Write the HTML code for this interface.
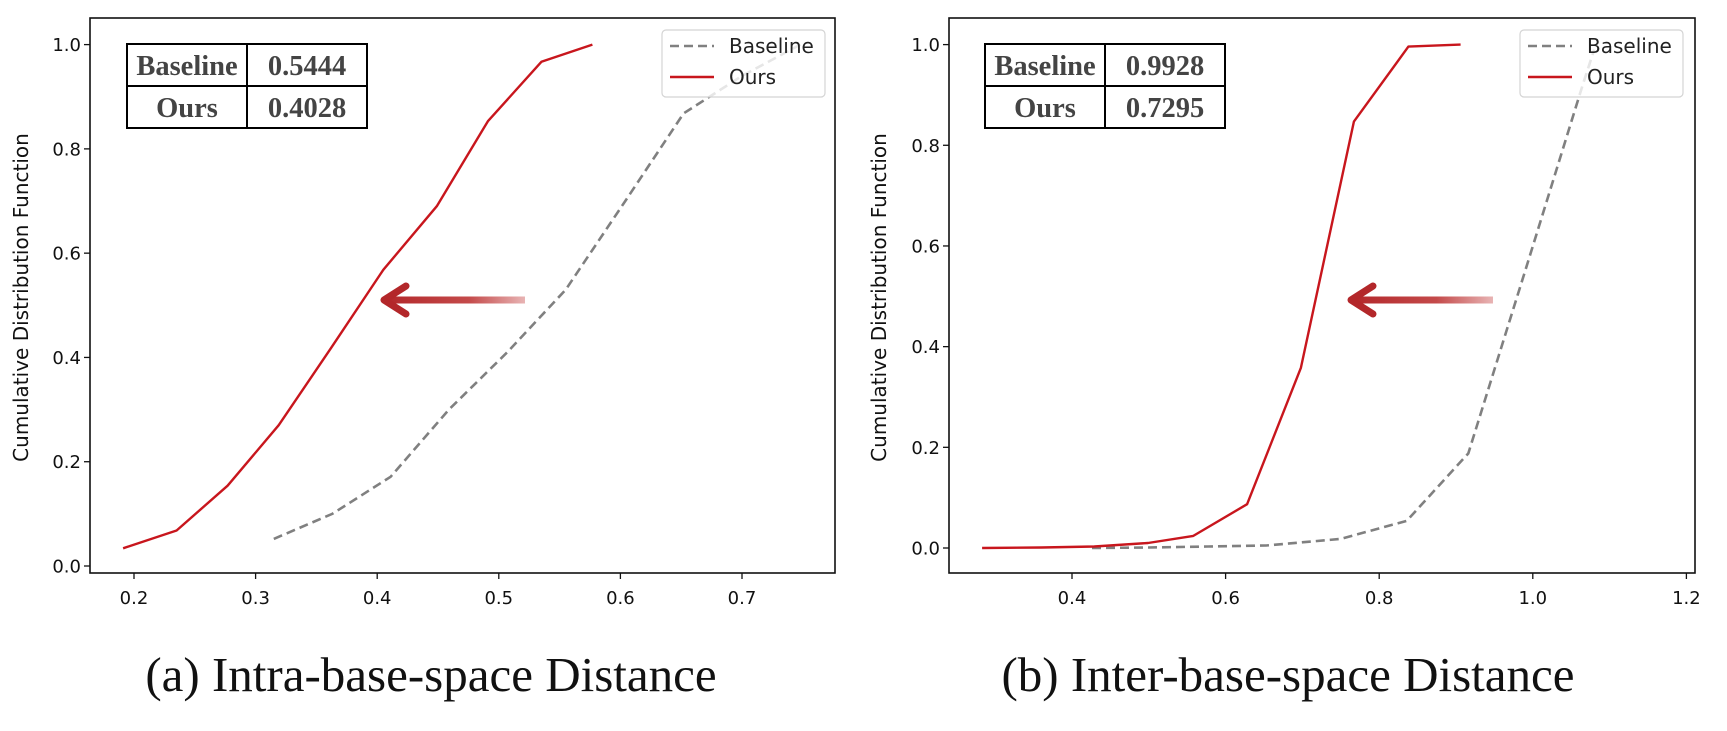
<!DOCTYPE html>
<html><head><meta charset="utf-8"><style>
html,body{margin:0;padding:0;background:#fff;}
svg{display:block;}
.tick{font-family:"DejaVu Sans","Liberation Sans",sans-serif;font-size:18px;fill:#111;}
.ytitle{font-family:"DejaVu Sans","Liberation Sans",sans-serif;font-size:20px;fill:#111;}
.leg{font-family:"DejaVu Sans","Liberation Sans",sans-serif;font-size:20px;fill:#222;}
.tbl{font-family:"Liberation Serif",serif;font-weight:bold;font-size:28.5px;fill:#444;}
.cap{font-family:"Liberation Serif",serif;font-size:49px;fill:#111;}
</style></head><body>
<svg id="fig" width="1727" height="731" viewBox="0 0 1727 731" xmlns="http://www.w3.org/2000/svg">
<defs>
<linearGradient id="arrowGrad" x1="0" x2="1" y1="0" y2="0">
<stop offset="0" stop-color="#b3272a"/><stop offset="0.6" stop-color="#c44a4a"/><stop offset="1" stop-color="#e8b4b4"/>
</linearGradient>
</defs>
</svg>
<script>
// ---- data: left chart ----
const leftOursX = [0.191,0.235,0.277,0.319,0.362,0.405,0.449,0.491,0.535,0.577];
const leftOursY = [0.034,0.068,0.154,0.270,0.418,0.568,0.690,0.853,0.967,1.0];
const leftBaseX = [0.315,0.363,0.411,0.459,0.507,0.555,0.604,0.652,0.700,0.748];
const leftBaseY = [0.052,0.100,0.171,0.300,0.410,0.530,0.700,0.868,0.940,1.0];
const leftXTicks = [0.2,0.3,0.4,0.5,0.6,0.7];
const leftXTickLabels = ["0.2","0.3","0.4","0.5","0.6","0.7"];
// ---- data: right chart ----
const rightOursX = [0.283,0.36,0.429,0.499,0.558,0.628,0.698,0.767,0.838,0.906];
const rightOursY = [0.0,0.001,0.003,0.010,0.024,0.087,0.358,0.847,0.996,1.0];
const rightBaseX = [0.426,0.50,0.577,0.653,0.750,0.836,0.916,0.99,1.065,1.08];
const rightBaseY = [0.0,0.001,0.003,0.005,0.018,0.054,0.188,0.55,0.92,0.99];
const rightXTicks = [0.4,0.6,0.8,1.0,1.2];
const rightXTickLabels = ["0.4","0.6","0.8","1.0","1.2"];
const yTicks = [0.0,0.2,0.4,0.6,0.8,1.0];
const yTickLabels = ["0.0","0.2","0.4","0.6","0.8","1.0"];
const leftTable = [["Baseline","0.5444"],["Ours","0.4028"]];
const rightTable = [["Baseline","0.9928"],["Ours","0.7295"]];

const NS="http://www.w3.org/2000/svg";
const svg=document.getElementById('fig');
function mk(tag,attrs,parent,text){const e=document.createElementNS(NS,tag);for(const k in attrs)e.setAttribute(k,attrs[k]);if(text!==undefined)e.textContent=text;(parent||svg).appendChild(e);return e;}

function drawChart(cfg){
  const g=mk('g',{});
  
  
  const sx=v=>cfg.x0px+(v-cfg.x0v)*cfg.xs;
  const sy=v=>cfg.y0px-v*cfg.ys;
  const frame=mk('rect',{x:cfg.L,y:cfg.T,width:cfg.R-cfg.L,height:cfg.B-cfg.T,fill:'none',stroke:'#111','stroke-width':1.6},g);
  
  
  yTicks.forEach((v,i)=>{
    const y=sy(v);
    const t=mk('line',{x1:cfg.L-6,x2:cfg.L,y1:y,y2:y,stroke:'#111','stroke-width':1.3},g);
    
    
    const l=mk('text',{x:cfg.L-9,y:y+6.5,'text-anchor':'end',class:'tick'},g,yTickLabels[i]);
    
    
  });
  cfg.xt.forEach((v,i)=>{
    const x=sx(v);
    const t=mk('line',{x1:x,x2:x,y1:cfg.B,y2:cfg.B+6,stroke:'#111','stroke-width':1.3},g);
    
    
    const l=mk('text',{x:x,y:cfg.B+31,'text-anchor':'middle',class:'tick'},g,cfg.xl[i]);
    
    
  });
  const yt=mk('text',{x:cfg.ytx,y:(cfg.T+cfg.B)/2+2,'text-anchor':'middle',class:'ytitle',transform:`rotate(-90 ${cfg.ytx} ${(cfg.T+cfg.B)/2+2})`},g,'Cumulative Distribution Function');
  
  
  const pts=(xs,ys)=>xs.map((x,i)=>sx(x).toFixed(1)+','+sy(ys[i]).toFixed(1)).join(' ');
  const base=mk('polyline',{points:pts(cfg.bx,cfg.by),fill:'none',stroke:'#808080','stroke-width':2.6,'stroke-dasharray':'9,5'},g);
  
  
  const ours=mk('polyline',{points:pts(cfg.ox,cfg.oy),fill:'none',stroke:'#c8161d','stroke-width':2.4,'stroke-linejoin':'round'},g);
  
  
  const lg=mk('g',{},g);
  
  
  mk('rect',{x:cfg.legX,y:30,width:163,height:67,rx:4,fill:'rgba(255,255,255,0.8)',stroke:'#d4d4d4','stroke-width':1.2},lg);
  const e1=mk('g',{},lg);
  
  
  mk('line',{x1:cfg.legX+8,x2:cfg.legX+52,y1:46,y2:46,stroke:'#808080','stroke-width':2.6,'stroke-dasharray':'9,5'},e1);
  mk('text',{x:cfg.legX+67,y:53,class:'leg'},e1,'Baseline');
  const e2=mk('g',{},lg);
  
  
  mk('line',{x1:cfg.legX+8,x2:cfg.legX+52,y1:77,y2:77,stroke:'#c8161d','stroke-width':2.6},e2);
  mk('text',{x:cfg.legX+67,y:84,class:'leg'},e2,'Ours');
  const tg=mk('g',{},g);
  
  
  const [tx0,tx1,tx2]=cfg.tab; const ty0=44,ty1=86,ty2=128;
  mk('rect',{x:tx0,y:ty0,width:tx2-tx0,height:ty2-ty0,fill:'#fff',stroke:'#000','stroke-width':2},tg);
  mk('line',{x1:tx1,x2:tx1,y1:ty0,y2:ty2,stroke:'#000','stroke-width':2},tg);
  mk('line',{x1:tx0,x2:tx2,y1:ty1,y2:ty1,stroke:'#000','stroke-width':2},tg);
  cfg.table.forEach((row,r)=>{
    const cy=r===0?(ty0+ty1)/2:(ty1+ty2)/2;
    const c1=mk('text',{x:(tx0+tx1)/2,y:cy+10,'text-anchor':'middle',class:'tbl'},tg,row[0]);
    
    
    const c2=mk('text',{x:(tx1+tx2)/2,y:cy+10,'text-anchor':'middle',class:'tbl'},tg,row[1]);
    
    
  });
  const ag=mk('g',{},g);
  
  
  const [ax0,ax1,ay]=cfg.arrow;
  mk('rect',{x:ax0+4,y:ay-3.5,width:ax1-ax0-4,height:7,fill:'url(#arrowGrad)'},ag);
  mk('polyline',{points:`${ax0+25},${ay-14} ${ax0+3},${ay} ${ax0+25},${ay+14}`,fill:'none',stroke:'#b3272a','stroke-width':7,'stroke-linecap':'round','stroke-linejoin':'round'},ag);
  const cap=mk('text',{x:cfg.capX,y:691,'text-anchor':'middle',class:'cap'},g,cfg.caption);
  
  
}

drawChart({name:'left-chart',L:90,R:835,T:18,B:573,x0v:0.2,x0px:134,xs:1216,y0px:566,ys:521.4,
  xt:leftXTicks,xl:leftXTickLabels,ox:leftOursX,oy:leftOursY,bx:leftBaseX,by:leftBaseY,
  ytx:28,legX:662,tab:[127,247,367],table:leftTable,arrow:[381,525,300],capX:431,caption:'(a) Intra-base-space Distance'});
drawChart({name:'right-chart',L:949,R:1695,T:18,B:573,x0v:0.4,x0px:1072,xs:768,y0px:548,ys:503.4,
  xt:rightXTicks,xl:rightXTickLabels,ox:rightOursX,oy:rightOursY,bx:rightBaseX,by:rightBaseY,
  ytx:886,legX:1520,tab:[985,1105,1225],table:rightTable,arrow:[1348,1493,300],capX:1288,caption:'(b) Inter-base-space Distance'});
</script>
</body></html>
